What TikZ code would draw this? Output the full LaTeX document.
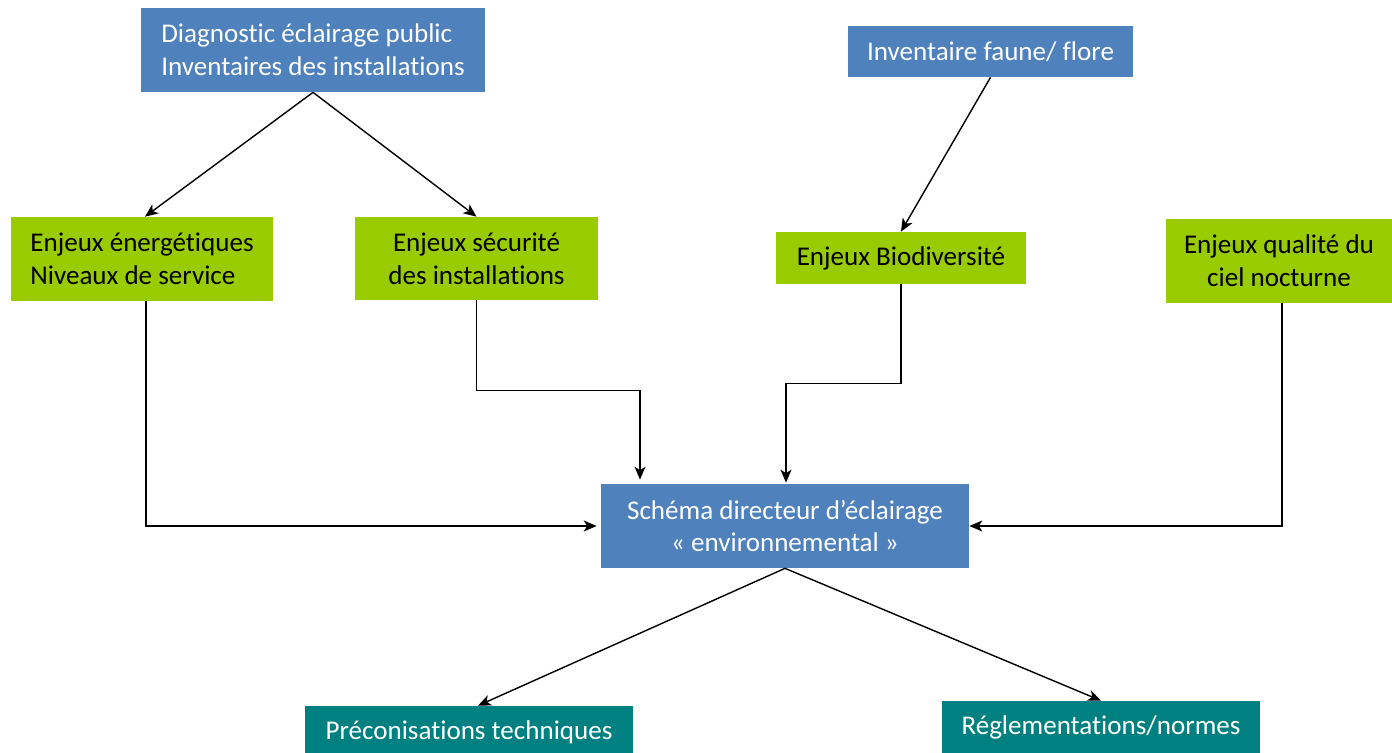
\documentclass[tikz,border=0pt]{standalone}
\usepackage{fontspec}
\setmainfont{Carlito}[Ligatures=NoCommon]
\usetikzlibrary{arrows.meta}
\usetikzlibrary{positioning}
\usetikzlibrary{calc}

\definecolor{boxblue}{HTML}{4F81BD}
\definecolor{boxgreen}{HTML}{99CC00}
\definecolor{boxteal}{HTML}{008080}

\begin{document}
\begin{tikzpicture}[x=0.02cm,y=-0.02cm,
    font=\fontsize{15.4}{18.7}\selectfont,
    bluebox/.style={fill=boxblue,text=white,inner sep=0pt},
    greenbox/.style={fill=boxgreen,text=black,inner sep=0pt},
    tealbox/.style={fill=boxteal,text=white,inner sep=0pt},
    link/.style={-{Stealth[length=0.26cm,width=0.22cm,inset=0.07cm]},line width=0.8pt}]
    \useasboundingbox (0,0) rectangle (1392,753);

    \node (diag) [bluebox,minimum width=6.88cm,minimum height=1.68cm,align=left] at (313,50)
        {Diagnostic éclairage public\\Inventaires des installations};
    \node (faune) [bluebox,minimum width=5.7cm,minimum height=1.02cm] at (990.5,51.5)
        {Inventaire faune/ flore};

    \node (energ) [greenbox,minimum width=5.24cm,minimum height=1.68cm,align=left] at (142,259)
        {Enjeux énergétiques\\Niveaux de service};
    \node (secur) [greenbox,minimum width=4.86cm,minimum height=1.66cm,align=center] at (476.5,258.5)
        {Enjeux sécurité\\des installations};
    \node (biodiv) [greenbox,minimum width=5cm,minimum height=1.04cm] at (901,258)
        {Enjeux Biodiversité};
    \node (ciel) [greenbox,minimum width=4.52cm,minimum height=1.68cm,align=center] at (1279,261)
        {Enjeux qualité du\\ciel nocturne};

    \node (schema) [bluebox,minimum width=7.36cm,minimum height=1.68cm,align=center] at (785,526)
        {Schéma directeur d’éclairage\\« environnemental »};

    \node (precon) [tealbox,minimum width=6.56cm,minimum height=1.04cm] at (469,732)
        {Préconisations techniques};
    \node (regl) [tealbox,minimum width=6.36cm,minimum height=1.04cm] at (1101,727)
        {Réglementations/normes};

    \path [link] (diag.south) edge ($(energ.north)+(3,0)$);
    \path [link] (diag.south) edge (secur.north);
    \path [link] (faune.south) edge (biodiv.north);

    \draw [link] ($(energ.south)+(4,0)$) |- ($(schema.west)+(-4,0)$);
    \draw [link] (secur.south) -- ++(0,90) -| ($(schema.north)+(-145,-4)$);
    \draw [link] (biodiv.south) -- ++(0,99) -| ($(schema.north)+(1,-1)$);
    \draw [link] ($(ciel.south)+(3,0)$) |- (schema.east);

    \path [link] (schema.south) edge ($(precon.north)+(9,0)$);
    \path [link] (schema.south) edge (regl.north);
\end{tikzpicture}
\end{document}
